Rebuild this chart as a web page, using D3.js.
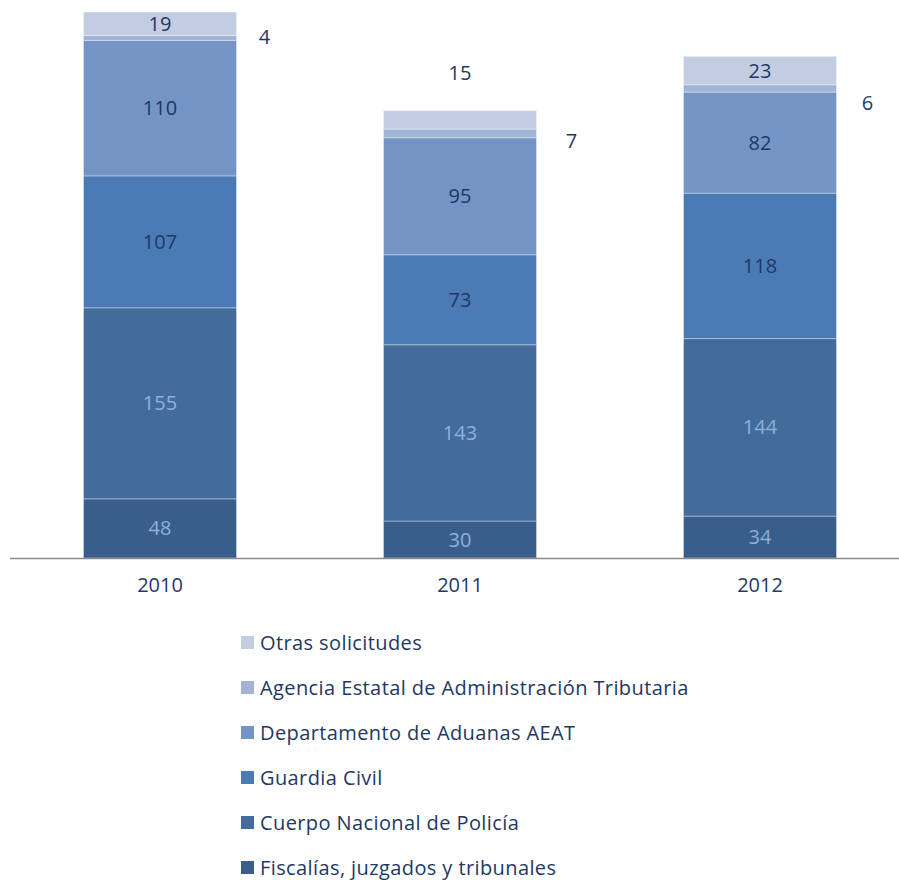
<!DOCTYPE html>
<html>
<head>
<meta charset="utf-8">
<script src="https://cdn.jsdelivr.net/npm/d3@7"></script>
<style>
  body { margin: 0; background: #fff; }
  text { font-family: "Open Sans", "Noto Sans", sans-serif; }
</style>
</head>
<body>
<div id="chart"></div>
<script>
// data
const years = ["2010", "2011", "2012"];
const series = [
  "Fiscalías, juzgados y tribunales",
  "Cuerpo Nacional de Policía",
  "Guardia Civil",
  "Departamento de Aduanas AEAT",
  "Agencia Estatal de Administración Tributaria",
  "Otras solicitudes"
];
const fiscalias = [48, 30, 34];
const policia = [155, 143, 144];
const guardia = [107, 73, 118];
const aduanas = [110, 95, 82];
const agencia = [4, 7, 6];
const otras = [19, 15, 23];
const colors = ["#3a5e8b", "#436c9c", "#4a7bb4", "#7394c4", "#a1b4d5", "#c3cde2"];

const W = 899, H = 880;
const BASE = 558;

const svg = d3.select("#chart").append("svg")
  .attr("width", W).attr("height", H);

const table = years.map((y, i) => ({
  year: y,
  s0: fiscalias[i], s1: policia[i], s2: guardia[i],
  s3: aduanas[i], s4: agencia[i], s5: otras[i]
}));
const keys = ["s0", "s1", "s2", "s3", "s4", "s5"];
const stacked = d3.stack().keys(keys)(table);

const x = d3.scaleBand().domain(years).range([10, 910]).paddingInner(0.49).paddingOuter(0.245);
const y = d3.scaleLinear().domain([0, 443]).range([BASE, 12]);

const groups = svg.selectAll("g.layer").data(stacked).enter().append("g")
  .attr("class", "layer")
  .attr("fill", (d, i) => colors[i]);

groups.selectAll("rect").data(d => d).enter().append("rect")
  .attr("x", d => x(d.data.year))
  .attr("width", x.bandwidth())
  .attr("y", d => y(d[1]))
  .attr("height", d => y(d[0]) - y(d[1]))
  .attr("stroke", "#ffffff")
  .attr("stroke-opacity", 0.35)
  .attr("stroke-width", 1);

// axis line
svg.append("line")
  .attr("x1", 10).attr("x2", W)
  .attr("y1", BASE + 0.5).attr("y2", BASE + 0.5)
  .attr("stroke", "#8c8c8c").attr("stroke-width", 1.5);

const xAxis = svg.append("g").attr("transform", `translate(0,${BASE})`)
  .call(d3.axisBottom(x).tickSize(0).tickPadding(20));
xAxis.select(".domain").remove();
xAxis.selectAll("text")
  .attr("font-size", 20)
  .attr("fill", "#1f3864")
  .style("font-family", "'Open Sans', sans-serif");

// value labels
const dark = "#1f3864", light = "#8fb0dc";
stacked.forEach((layer, li) => {
  layer.forEach((d, i) => {
    const v = d[1] - d[0];
    let lx = x(d.data.year) + x.bandwidth() / 2;
    let ly = (y(d[0]) + y(d[1])) / 2;
    let fill = li <= 1 ? light : dark;
    if (li === 4) {
      // small segment: label beside the bar
      lx = x(d.data.year) + x.bandwidth() + [28, 35, 31][i];
      ly = [y(d[1]) + 2, y(d[1]) + 12, y(d[1]) + 18][i];
    }
    if (li === 5 && i === 1) {
      // 2011 "otras" sits above its bar
      ly = y(d[1]) - 38;
    }
    svg.append("text")
      .attr("x", lx).attr("y", ly)
      .attr("dy", "0.35em")
      .attr("text-anchor", "middle")
      .attr("font-size", 20)
      .attr("fill", fill)
      .text(v);
  });
});

// legend, top entry is the last series
const legend = svg.append("g");
const order = series.map((s, i) => i).reverse();
order.forEach((si, k) => {
  const ly = 643 + k * 45;
  legend.append("rect")
    .attr("x", 241).attr("y", ly - 7)
    .attr("width", 13).attr("height", 13)
    .attr("fill", colors[si]);
  legend.append("text")
    .attr("x", 260).attr("y", ly)
    .attr("dy", "0.35em")
    .attr("font-size", 20)
    .attr("letter-spacing", 0.4)
    .attr("fill", dark)
    .text(series[si]);
});
</script>
</body>
</html>
